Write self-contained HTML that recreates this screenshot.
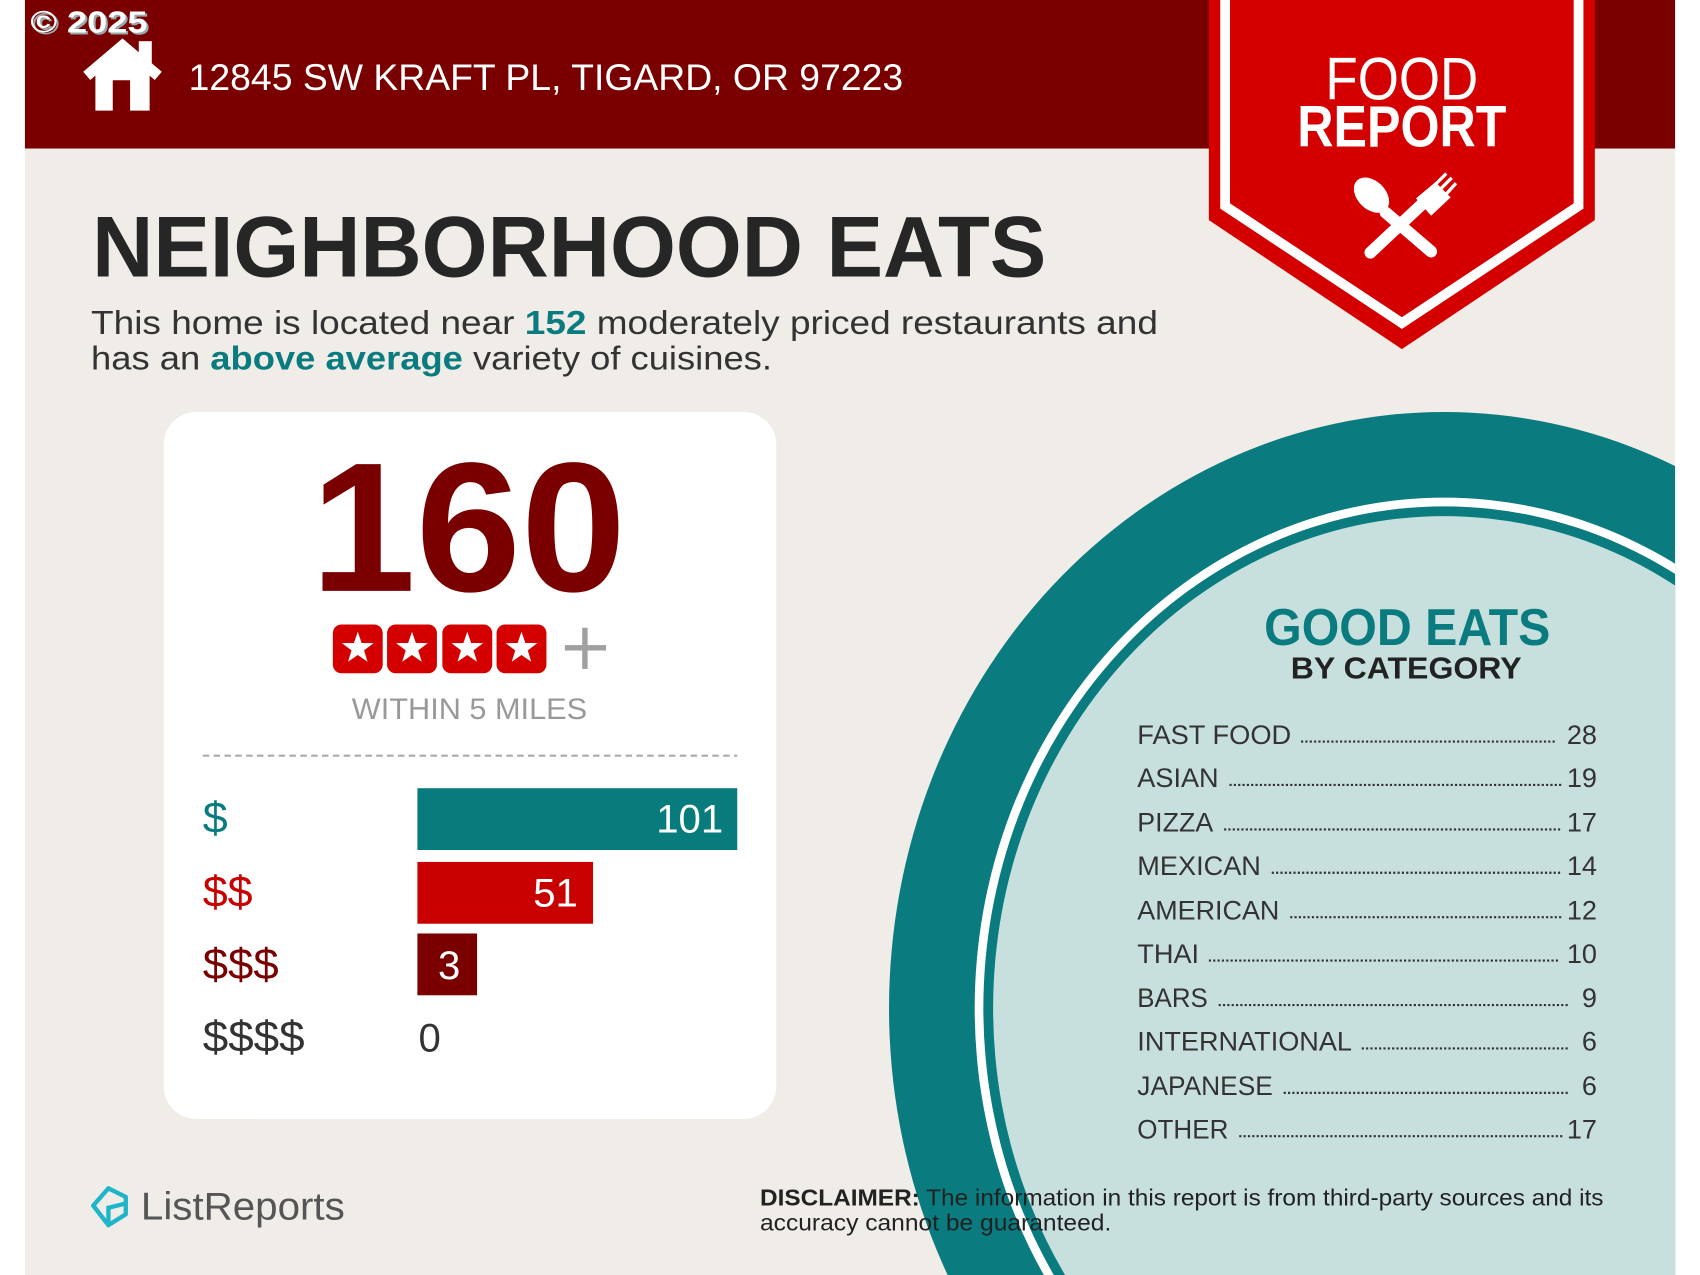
<!DOCTYPE html>
<html><head><meta charset="utf-8"><style>
html,body{margin:0;padding:0;background:#fff;width:1700px;height:1275px;overflow:hidden;}
svg{display:block;}
text{font-family:"Liberation Sans",sans-serif;}
</style></head><body>
<svg width="1700" height="1275" viewBox="0 0 1568 1176" preserveAspectRatio="none" xmlns="http://www.w3.org/2000/svg">
<defs>
<clipPath id="pg"><rect x="23" y="0" width="1522" height="1176"/></clipPath>
<symbol id="star" viewBox="-10 -10 20 20"><polygon points="0,-9 2.1,-2.9 8.6,-2.8 3.4,1.1 5.3,7.3 0,3.6 -5.3,7.3 -3.4,1.1 -8.6,-2.8 -2.1,-2.9" fill="#fff"/></symbol>
</defs>
<rect x="23" y="0" width="1522" height="1176" fill="#f0ece8"/>
<g clip-path="url(#pg)">
<ellipse cx="1332" cy="930" rx="512" ry="550" fill="#0a7b7e"/>
<ellipse cx="1332" cy="930" rx="433" ry="471" fill="#fff"/>
<ellipse cx="1332" cy="930" rx="425" ry="463" fill="#0a7b7e"/>
<ellipse cx="1332" cy="930" rx="416" ry="454" fill="#c7e0de"/>
</g>
<rect x="23" y="0" width="1522" height="137" fill="#7a0000"/>
<text x="28" y="30" font-size="28" font-weight="bold" fill="#9aa" textLength="108" lengthAdjust="spacingAndGlyphs" transform="translate(2,2)">© 2025</text>
<text x="28" y="30" font-size="28" font-weight="bold" fill="#fff" textLength="108" lengthAdjust="spacingAndGlyphs">© 2025</text>
<polyline points="80,70 113,42 146,70" fill="none" stroke="#fff" stroke-width="10"/>
<rect x="128" y="38" width="12" height="22" fill="#fff"/>
<path d="M88,62 L113,42 L138,62 L138,102 L120,102 L120,74 L104,74 L104,102 L88,102 Z" fill="#fff"/>
<text x="174" y="83" font-size="34" fill="#fff" textLength="659" lengthAdjust="spacingAndGlyphs">12845 SW KRAFT PL, TIGARD, OR 97223</text>
<polygon points="1115,0 1471,0 1471,203 1293,322 1115,203" fill="#d40000"/>
<polyline points="1130,0 1130,190 1293,298 1456,190 1456,0" fill="none" stroke="#fff" stroke-width="9"/>
<text x="1293" y="92" font-size="56" fill="#fff" text-anchor="middle" textLength="141" lengthAdjust="spacingAndGlyphs">FOOD</text>
<text x="1293" y="135" font-size="54" font-weight="bold" fill="#fff" text-anchor="middle" textLength="193" lengthAdjust="spacingAndGlyphs">REPORT</text>
<g fill="#fff" stroke="#fff">
<line x1="1278" y1="196" x2="1320" y2="232" stroke-width="11" stroke-linecap="round"/>
<ellipse cx="1265" cy="180" rx="13" ry="19" transform="rotate(-45 1265 180)" stroke="none"/>
<line x1="1264" y1="233" x2="1312" y2="188" stroke-width="11" stroke-linecap="round"/>
<path d="M1306,183 L1324,168 L1338,182 L1320,199 Z" stroke="none"/>
<line x1="1322" y1="172" x2="1334" y2="160" stroke-width="3"/>
<line x1="1327" y1="176" x2="1339" y2="164" stroke-width="3"/>
<line x1="1332" y1="181" x2="1343" y2="169" stroke-width="3"/>
</g>
<text x="85" y="255" font-size="80" font-weight="bold" fill="#262626" textLength="880" lengthAdjust="spacingAndGlyphs">NEIGHBORHOOD EATS</text>
<text x="84" y="308" font-size="31" fill="#333" textLength="984" lengthAdjust="spacingAndGlyphs">This home is located near <tspan fill="#0a7b7e" font-weight="bold">152</tspan> moderately priced restaurants and</text>
<text x="84" y="341" font-size="31" fill="#333" textLength="628" lengthAdjust="spacingAndGlyphs">has an <tspan fill="#0a7b7e" font-weight="bold">above average</tspan> variety of cuisines.</text>
<rect x="151" y="380" width="565" height="652" rx="30" fill="#fff"/>
<text x="432" y="545" font-size="170" font-weight="bold" fill="#7a0000" text-anchor="middle" textLength="291" lengthAdjust="spacingAndGlyphs">160</text>
<g>
<rect x="307" y="576" width="46" height="45" rx="8" fill="#d40000"/>
<rect x="357" y="576" width="46" height="45" rx="8" fill="#d40000"/>
<rect x="408" y="576" width="46" height="45" rx="8" fill="#d40000"/>
<rect x="458" y="576" width="46" height="45" rx="8" fill="#d40000"/>
<use href="#star" x="313" y="580" width="34" height="36"/>
<use href="#star" x="363" y="580" width="34" height="36"/>
<use href="#star" x="414" y="580" width="34" height="36"/>
<use href="#star" x="464" y="580" width="34" height="36"/>
<rect x="521" y="595" width="38" height="5" fill="#a0a0a0"/>
<rect x="537" y="579" width="5" height="38" fill="#a0a0a0"/>
</g>
<text x="433" y="663" font-size="27" fill="#999" text-anchor="middle" textLength="217" lengthAdjust="spacingAndGlyphs">WITHIN 5 MILES</text>
<line x1="187" y1="697" x2="680" y2="697" stroke="#aaa" stroke-width="2" stroke-dasharray="6,4"/>
<rect x="385" y="727" width="295" height="57" fill="#087b7c"/>
<rect x="385" y="795" width="162" height="57" fill="#c80000"/>
<rect x="385" y="861" width="55" height="57" fill="#7a0000"/>
<text x="187" y="768" font-size="40" fill="#0a7b7e" textLength="23" lengthAdjust="spacingAndGlyphs">$</text>
<text x="187" y="836" font-size="40" fill="#c80000" textLength="46" lengthAdjust="spacingAndGlyphs">$$</text>
<text x="187" y="903" font-size="40" fill="#7a0000" textLength="70" lengthAdjust="spacingAndGlyphs">$$$</text>
<text x="187" y="970" font-size="40" fill="#333" textLength="94" lengthAdjust="spacingAndGlyphs">$$$$</text>
<text x="667" y="768" font-size="37" fill="#fff" text-anchor="end">101</text>
<text x="533" y="836" font-size="37" fill="#fff" text-anchor="end">51</text>
<text x="404" y="903" font-size="37" fill="#fff">3</text>
<text x="386" y="970" font-size="37" fill="#333">0</text>
<text x="1298" y="595" font-size="48" font-weight="bold" fill="#0a7b7e" text-anchor="middle" textLength="264" lengthAdjust="spacingAndGlyphs">GOOD EATS</text>
<text x="1297" y="626" font-size="28" font-weight="bold" fill="#222" text-anchor="middle" textLength="213" lengthAdjust="spacingAndGlyphs">BY CATEGORY</text>
<g font-size="25" fill="#333">
<text x="1049" y="686" textLength="142" lengthAdjust="spacingAndGlyphs">FAST FOOD</text><text x="1473" y="686" text-anchor="end">28</text>
<text x="1049" y="726" textLength="75" lengthAdjust="spacingAndGlyphs">ASIAN</text><text x="1473" y="726" text-anchor="end">19</text>
<text x="1049" y="767" textLength="70" lengthAdjust="spacingAndGlyphs">PIZZA</text><text x="1473" y="767" text-anchor="end">17</text>
<text x="1049" y="807" textLength="114" lengthAdjust="spacingAndGlyphs">MEXICAN</text><text x="1473" y="807" text-anchor="end">14</text>
<text x="1049" y="848" textLength="131" lengthAdjust="spacingAndGlyphs">AMERICAN</text><text x="1473" y="848" text-anchor="end">12</text>
<text x="1049" y="888" textLength="57" lengthAdjust="spacingAndGlyphs">THAI</text><text x="1473" y="888" text-anchor="end">10</text>
<text x="1049" y="929" textLength="65" lengthAdjust="spacingAndGlyphs">BARS</text><text x="1473" y="929" text-anchor="end">9</text>
<text x="1049" y="969" textLength="198" lengthAdjust="spacingAndGlyphs">INTERNATIONAL</text><text x="1473" y="969" text-anchor="end">6</text>
<text x="1049" y="1010" textLength="125" lengthAdjust="spacingAndGlyphs">JAPANESE</text><text x="1473" y="1010" text-anchor="end">6</text>
<text x="1049" y="1050" textLength="84" lengthAdjust="spacingAndGlyphs">OTHER</text><text x="1473" y="1050" text-anchor="end">17</text>
</g>
<g stroke="#333" stroke-width="2" stroke-dasharray="2,2">
<line x1="1200" y1="684" x2="1434" y2="684"/>
<line x1="1134" y1="724" x2="1441" y2="724"/>
<line x1="1129" y1="765" x2="1441" y2="765"/>
<line x1="1173" y1="805" x2="1441" y2="805"/>
<line x1="1190" y1="846" x2="1440" y2="846"/>
<line x1="1115" y1="886" x2="1439" y2="886"/>
<line x1="1124" y1="927" x2="1447" y2="927"/>
<line x1="1256" y1="967" x2="1447" y2="967"/>
<line x1="1184" y1="1008" x2="1447" y2="1008"/>
<line x1="1143" y1="1048" x2="1441" y2="1048"/>
</g>
<text x="701" y="1112" font-size="21" fill="#222" textLength="778" lengthAdjust="spacingAndGlyphs"><tspan font-weight="bold">DISCLAIMER:</tspan> The information in this report is from third-party sources and its</text>
<text x="701" y="1135" font-size="21" fill="#222" textLength="324" lengthAdjust="spacingAndGlyphs">accuracy cannot be guaranteed.</text>
<path d="M86,1112 L100,1096 L116,1104 L116,1120 L100,1130 Z" fill="none" stroke="#1fb5c9" stroke-width="4" stroke-linejoin="round"/>
<path d="M100,1130 L100,1114 L116,1110" fill="none" stroke="#1fb5c9" stroke-width="4"/>
<text x="130" y="1125" font-size="36" fill="#555" textLength="188" lengthAdjust="spacingAndGlyphs">ListReports</text>
</svg>
</body></html>
